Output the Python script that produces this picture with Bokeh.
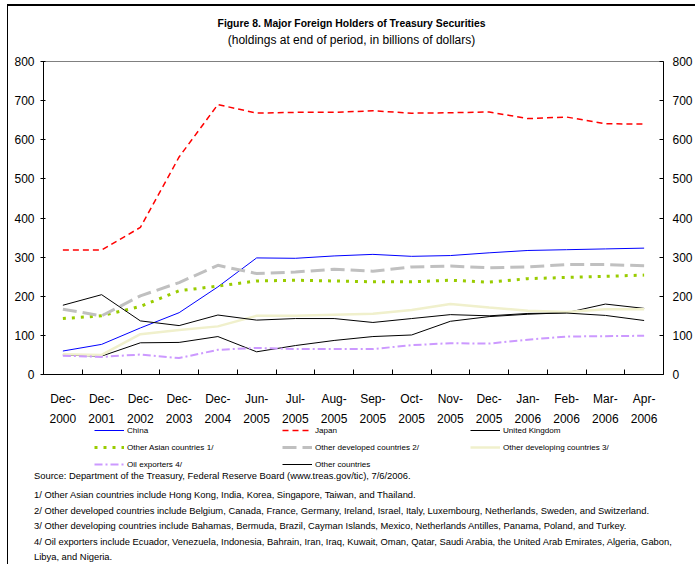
from bokeh.plotting import figure
from bokeh.models import Range1d, LinearAxis, FixedTicker, Legend, LegendItem, Div
from bokeh.layouts import column
from bokeh.embed import file_html
from bokeh.resources import INLINE

categories = ["Dec-2000", "Dec-2001", "Dec-2002", "Dec-2003", "Dec-2004", "Jun-2005",
              "Jul-2005", "Aug-2005", "Sep-2005", "Oct-2005", "Nov-2005", "Dec-2005",
              "Jan-2006", "Feb-2006", "Mar-2006", "Apr-2006"]

china = [60, 77, 119, 158, 224, 298, 297, 303, 307, 302, 304, 311, 317, 319, 321, 323]
japan = [318, 318, 376, 556, 690, 668, 670, 670, 674, 668, 669, 671, 654, 658, 641, 640]
united_kingdom = [50, 47, 81, 82, 97, 58, 74, 87, 97, 101, 136, 148, 154, 158, 180, 169]
other_asian = [143, 150, 174, 214, 226, 239, 241, 239, 237, 237, 241, 236, 245, 248, 251, 254]
other_developed = [167, 150, 201, 235, 279, 258, 262, 269, 264, 275, 277, 273, 275, 281, 281, 278]
other_developing = [52, 50, 103, 114, 123, 150, 150, 153, 155, 165, 180, 171, 163, 160, 167, 167]
oil_exporters = [48, 45, 51, 42, 63, 68, 65, 65, 65, 75, 80, 79, 89, 97, 98, 99]
other_countries = [177, 204, 137, 125, 152, 139, 143, 143, 133, 143, 153, 150, 156, 157, 151, 138]

y_ticks = [0, 100, 200, 300, 400, 500, 600, 700, 800]

title_text = "Figure 8. Major Foreign Holders of Treasury Securities"
subtitle_text = "(holdings at end of period, in billions of dollars)"
source_text = "Source: Department of the Treasury, Federal Reserve Board (www.treas.gov/tic), 7/6/2006."
notes = [
    "1/ Other Asian countries include Hong Kong, India, Korea, Singapore, Taiwan, and Thailand.",
    "2/ Other developed countries include Belgium, Canada, France, Germany, Ireland, Israel, Italy, Luxembourg, Netherlands, Sweden, and Switzerland.",
    "3/ Other developing countries include Bahamas, Bermuda, Brazil, Cayman Islands, Mexico, Netherlands Antilles, Panama, Poland, and Turkey.",
    "4/ Oil exporters include Ecuador, Venezuela, Indonesia, Bahrain, Iran, Iraq, Kuwait, Oman, Qatar, Saudi Arabia, the United Arab Emirates, Algeria, Gabon,",
    "Libya, and Nigeria.",
]

FONT = "Liberation Sans"
W = 687
NAN = float("nan")

x = list(range(len(categories)))

# ---- heading -------------------------------------------------------------
head = Div(text=("<div style='font-weight:bold;font-size:10.4px;line-height:17px'>" + title_text + "</div>"
                 "<div style='font-size:12px;line-height:17px'>" + subtitle_text + "</div>"),
           width=W, height=43, margin=(0, 0, 0, 0),
           styles={"font-family": FONT, "color": "black", "text-align": "center",
                   "padding-top": "9px", "box-sizing": "border-box"})

# ---- main chart ----------------------------------------------------------
p = figure(width=W, height=386, output_backend="svg", toolbar_location=None,
           x_range=Range1d(-0.5, len(categories) - 0.5), y_range=Range1d(0, 800),
           min_border_left=35, min_border_right=32, min_border_top=12, min_border_bottom=61)
p.grid.visible = False
p.outline_line_color = "#808080"
p.background_fill_color = "white"
p.border_fill_color = "white"

xa = p.xaxis[0]
xa.ticker = FixedTicker(ticks=x, minor_ticks=[i + 0.5 for i in x[:-1]])
xa.major_label_overrides = {i: c.replace("-", "-\n") for i, c in zip(x, categories)}
xa.major_tick_in = 0
xa.major_tick_out = 0
xa.minor_tick_in = 5
xa.minor_tick_out = 0
xa.minor_tick_line_color = "black"
xa.axis_line_color = "black"
xa.major_label_standoff = 17
xa.major_label_text_font = FONT
xa.major_label_text_font_size = "12px"
xa.major_label_text_color = "black"
xa.major_label_text_line_height = 1.45

ya = p.yaxis[0]
ya.ticker = FixedTicker(ticks=y_ticks)
ya.minor_tick_line_color = None
ya.major_tick_in = 2
ya.major_tick_out = 3
ya.major_tick_line_color = "black"
ya.axis_line_color = "black"
ya.major_label_standoff = 6
ya.major_label_text_font = FONT
ya.major_label_text_font_size = "12px"
ya.major_label_text_color = "black"

ra = LinearAxis(ticker=FixedTicker(ticks=y_ticks))
ra.minor_tick_line_color = None
ra.major_tick_in = 4
ra.major_tick_out = 0
ra.major_tick_line_color = "black"
ra.axis_line_color = "black"
ra.major_label_standoff = 9
ra.major_label_text_font = FONT
ra.major_label_text_font_size = "12px"
ra.major_label_text_color = "black"
p.add_layout(ra, "right")

series = [
    ("China", china, dict(line_color="#0000ff", line_width=1)),
    ("Japan", japan, dict(line_color="#ff0000", line_width=1.5, line_dash="6 4")),
    ("United Kingdom", united_kingdom, dict(line_color="black", line_width=1)),
    ("Other Asian countries 1/", other_asian, dict(line_color="#99cc00", line_width=3, line_dash="3 6")),
    ("Other developed countries 2/", other_developed, dict(line_color="#c0c0c0", line_width=3, line_dash="14 6")),
    ("Other developing countries 3/", other_developing, dict(line_color="#f0f0cc", line_width=2.5)),
    ("Oil exporters 4/", oil_exporters, dict(line_color="#cc99ff", line_width=2, line_dash="8 3 2 3")),
    ("Other countries", other_countries, dict(line_color="black", line_width=1)),
]

for name, vals, style in series:
    p.line(x, vals, **style)

# ---- legend strip (same styles, legend only) -----------------------------
lg = figure(width=W, height=46, output_backend="svg", toolbar_location=None,
            x_axis_type=None, y_axis_type=None,
            x_range=Range1d(0, 1), y_range=Range1d(0, 1),
            min_border_left=0, min_border_right=0, min_border_top=0, min_border_bottom=0,
            margin=(-11, 0, 0, 0))
lg.grid.visible = False
lg.outline_line_color = None
lg.background_fill_alpha = 0
lg.border_fill_alpha = 0

# column-major fill of a 3-column grid -> reorder so rows read as in the original
order = [0, 3, 6, 1, 4, 7, 2, 5]
items = []
for k in order:
    name, vals, style = series[k]
    r = lg.line([NAN], [NAN], **style)
    items.append(LegendItem(label=name, renderers=[r]))

legend = Legend(items=items, ncols=3, location=(51, 0),
                label_text_font=FONT, label_text_font_size="8.1px", label_text_color="black",
                glyph_width=30, glyph_height=12, label_standoff=3, label_width=150,
                label_height=12, spacing=5, padding=0, margin=0,
                border_line_color=None, background_fill_alpha=0)
lg.add_layout(legend, "center")

# ---- notes ---------------------------------------------------------------
notes_html = ("<div style='margin-bottom:3.5px'>" + source_text + "</div>" +
              "".join("<div>" + t + "</div>" for t in notes))
div = Div(text=notes_html, width=W, margin=(-2, 0, 0, 0),
          styles={"font-family": FONT, "font-size": "9.4px", "line-height": "15.5px",
                  "color": "black", "padding-left": "26px", "white-space": "nowrap"})

layout = column(head, p, lg, div, spacing=0, margin=(4, 0, 0, 7))
layout.styles = {"border-left": "1px solid black", "border-top": "2px solid black"}

open("out.html", "w").write(file_html(layout, INLINE))
